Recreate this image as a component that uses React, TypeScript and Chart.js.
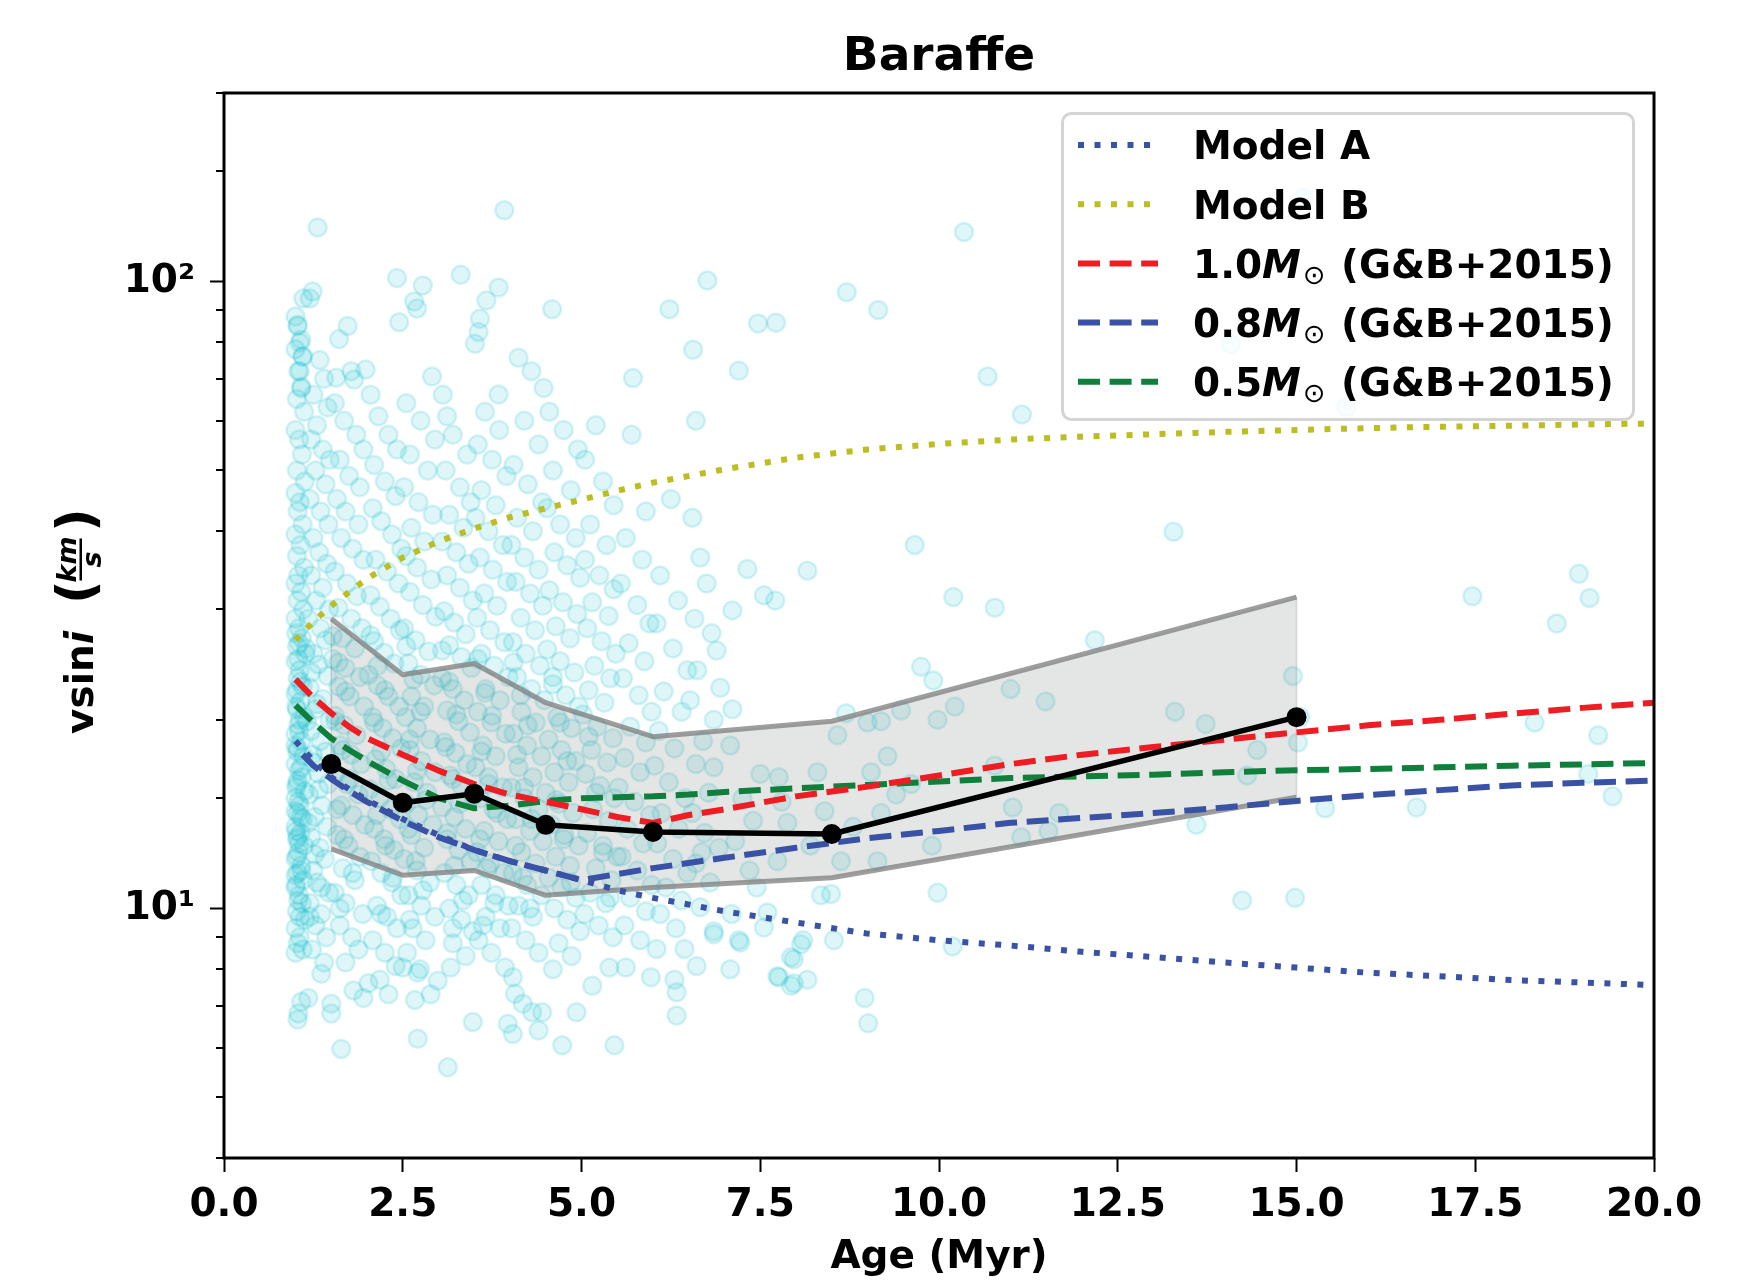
import React, { useEffect, useRef } from 'react';
import { Chart, registerables } from 'chart.js';

Chart.register(...registerables);

const FONT = '"DejaVu Sans", "Noto Sans", sans-serif';
const W = 1751;
const H = 1283;

// ---------- text ----------
const chartTitle = 'Baraffe';
const xAxisTitle = 'Age (Myr)';
const xMin = 0;
const xMax = 20;
const xStep = 2.5;
const yMin = 4;
const yMax = 200;
const superscripts = ['⁰', '¹', '²', '³'];

// ---------- observed stars (age [Myr], v sin i [km/s]) ----------
const starPoints: [number, number][] = [
  // x ~ 1.0 - 1.15 column
  [1.00, 88], [1.03, 85], [1.06, 80], [1.00, 78], [1.10, 76], [1.04, 72], [1.08, 68], [1.02, 65], [1.12, 62], [1.00, 58],
  [1.05, 56], [1.09, 53], [1.02, 50], [1.13, 48], [1.00, 46], [1.06, 44.5], [1.03, 43], [1.10, 41], [1.00, 39.5], [1.07, 38],
  [1.02, 36.5], [1.12, 35], [1.04, 34], [1.00, 33], [1.08, 32], [1.03, 31], [1.11, 30], [1.00, 29], [1.05, 28], [1.09, 27],
  [1.02, 26.2], [1.14, 25.5], [1.00, 24.8], [1.06, 24], [1.03, 23.3], [1.10, 22.6], [1.00, 22], [1.07, 21.4], [1.02, 20.8], [1.12, 20.2],
  [1.04, 19.6], [1.00, 19], [1.08, 18.5], [1.03, 18], [1.11, 17.5], [1.00, 17], [1.05, 16.6], [1.09, 16.2], [1.02, 15.8], [1.13, 15.4],
  [1.00, 15], [1.06, 14.6], [1.03, 14.2], [1.10, 13.9], [1.00, 13.5], [1.07, 13.2], [1.02, 12.9], [1.12, 12.6], [1.04, 12.3], [1.00, 12],
  [1.08, 11.7], [1.03, 11.4], [1.11, 11.1], [1.00, 10.8], [1.05, 10.5], [1.09, 10.2], [1.02, 9.9], [1.13, 9.6], [1.00, 9.3], [1.06, 9.0],
  [1.03, 8.8], [1.10, 8.6], [1.00, 8.5], [1.04, 6.8], [1.03, 6.65], [1.08, 7.1],
  [1.01, 27.5], [1.04, 25], [1.07, 23], [1.01, 21], [1.05, 19.2], [1.02, 17.8], [1.08, 16.8], [1.01, 15.6], [1.04, 14.8], [1.07, 14],
  [1.01, 13.3], [1.05, 12.7], [1.02, 12.1], [1.08, 11.5], [1.01, 10.9], [1.04, 10.3], [1.06, 9.7], [1.00, 11.3], [1.03, 13.0], [1.00, 14.3],
  [1.03, 16.0], [1.00, 18.2], [1.06, 20.0], [1.02, 22.3], [1.05, 26.5], [1.11, 94], [1.03, 85.3], [1.08, 80.8], [1.10, 76], [1.06, 72], [1.08, 67.6],
  // 1.15 - 1.5
  [1.31, 122], [1.24, 96.5], [1.20, 94], [1.34, 75], [1.40, 70], [1.25, 66], [1.45, 63], [1.30, 59], [1.22, 56], [1.38, 54],
  [1.48, 52], [1.28, 50], [1.42, 47.5], [1.20, 45], [1.35, 43], [1.46, 41], [1.25, 39], [1.33, 37], [1.44, 35.5], [1.22, 34],
  [1.38, 32.5], [1.29, 31], [1.47, 30], [1.18, 29], [1.35, 28], [1.42, 26.8], [1.25, 25.5], [1.32, 24.5], [1.45, 23.5], [1.20, 22.5],
  [1.38, 21.6], [1.28, 20.8], [1.48, 20], [1.22, 19.2], [1.35, 18.5], [1.42, 17.8], [1.26, 17.1], [1.32, 16.4], [1.46, 15.8], [1.19, 15.2],
  [1.37, 14.6], [1.27, 14], [1.44, 13.5], [1.22, 13], [1.34, 12.5], [1.41, 12], [1.25, 11.5], [1.30, 11], [1.47, 10.6], [1.20, 10.2],
  [1.36, 9.8], [1.28, 9.4], [1.43, 9.0], [1.23, 8.6], [1.36, 7.87], [1.18, 7.2], [1.50, 7.05], [1.50, 6.8], [1.40, 8.2],
  // 1.5 - 2.0
  [1.57, 70.3], [1.61, 81], [1.73, 85], [1.78, 72], [1.82, 69.8], [1.98, 72.4], [1.55, 64], [1.68, 60], [1.85, 57], [1.95, 54],
  [1.62, 52], [1.75, 49], [1.90, 47], [1.58, 45], [1.70, 43], [1.88, 41], [1.64, 39], [1.80, 37.5], [1.95, 36], [1.55, 34.5],
  [1.72, 33], [1.86, 31.5], [1.60, 30.2], [1.78, 29], [1.93, 28], [1.66, 27], [1.83, 26], [1.52, 25], [1.70, 24.2], [1.90, 23.4],
  [1.60, 22.6], [1.76, 21.8], [1.96, 21], [1.55, 20.3], [1.68, 19.6], [1.85, 18.9], [1.62, 18.2], [1.78, 17.6], [1.92, 17], [1.56, 16.4],
  [1.72, 15.8], [1.88, 15.2], [1.64, 14.6], [1.80, 14.1], [1.97, 13.6], [1.58, 13.1], [1.74, 12.6], [1.90, 12.1], [1.66, 11.6], [1.83, 11.1],
  [1.55, 10.6], [1.70, 10.2], [1.94, 9.8], [1.62, 9.4], [1.79, 9.0], [1.88, 8.6], [1.64, 5.97], [1.81, 7.4], [1.95, 7.2], [1.70, 8.2],
  // 2.0 - 2.5
  [2.02, 7.6], [2.30, 7.3], [2.05, 66], [2.16, 61], [2.30, 57], [2.42, 54], [2.10, 51], [2.25, 48], [2.40, 45.5], [2.08, 43.5],
  [2.20, 41.5], [2.35, 39.5], [2.48, 37.5], [2.12, 36], [2.28, 34.5], [2.44, 33], [2.05, 31.6], [2.18, 30.3], [2.33, 29], [2.46, 27.8],
  [2.10, 26.7], [2.24, 25.6], [2.38, 24.6], [2.02, 23.6], [2.15, 22.7], [2.30, 21.8], [2.45, 21], [2.08, 20.2], [2.22, 19.4], [2.36, 18.7],
  [2.48, 18], [2.12, 17.3], [2.27, 16.7], [2.40, 16.1], [2.04, 15.5], [2.18, 15], [2.33, 14.4], [2.46, 13.9], [2.10, 13.4], [2.24, 12.9],
  [2.38, 12.4], [2.06, 11.9], [2.20, 11.4], [2.35, 11], [2.48, 10.5], [2.14, 10.1], [2.28, 9.7], [2.42, 9.3], [2.08, 8.9], [2.25, 8.5],
  [2.40, 8.1], [2.18, 7.7],
  // 2.5 - 3.0
  [2.42, 101.4], [2.78, 98.6], [2.45, 86.2], [2.66, 93], [2.70, 90.6], [2.91, 70.6], [2.55, 64], [2.75, 60], [2.95, 56], [2.60, 53],
  [2.85, 50], [2.52, 47], [2.72, 44.5], [2.92, 42.5], [2.62, 40.5], [2.80, 38.5], [2.55, 36.5], [2.70, 35], [2.90, 33.5], [2.60, 32],
  [2.78, 30.5], [2.96, 29.2], [2.52, 28], [2.68, 26.8], [2.86, 25.7], [2.58, 24.6], [2.75, 23.6], [2.94, 22.7], [2.62, 21.8], [2.80, 21],
  [2.54, 20.2], [2.70, 19.4], [2.88, 18.6], [2.60, 17.9], [2.76, 17.2], [2.95, 16.5], [2.66, 15.9], [2.84, 15.3], [2.55, 14.7], [2.72, 14.1],
  [2.92, 13.6], [2.62, 13.1], [2.80, 12.5], [2.52, 12], [2.70, 11.5], [2.88, 11], [2.58, 10.5], [2.76, 10.1], [2.95, 9.7], [2.64, 9.3],
  [2.82, 8.9], [2.56, 8.5], [2.74, 8.0], [2.50, 8.05], [2.71, 7.9], [2.99, 7.67], [2.89, 7.3], [2.71, 6.2], [2.67, 7.15],
  // 3.0 - 3.5
  [3.31, 102.6], [3.12, 61], [3.06, 66], [3.20, 57], [3.40, 53], [3.10, 50], [3.30, 47], [3.45, 44.5], [3.15, 42.5], [3.35, 40.5],
  [3.05, 38.5], [3.25, 37], [3.42, 35.5], [3.12, 34], [3.30, 32.5], [3.48, 31], [3.08, 29.8], [3.22, 28.6], [3.38, 27.4], [3.15, 26.3],
  [3.32, 25.2], [3.46, 24.2], [3.05, 23.3], [3.20, 22.4], [3.36, 21.5], [3.12, 20.7], [3.28, 19.9], [3.44, 19.1], [3.08, 18.4], [3.24, 17.7],
  [3.40, 17], [3.16, 16.3], [3.32, 15.7], [3.48, 15.1], [3.05, 14.5], [3.22, 14], [3.38, 13.4], [3.12, 12.9], [3.28, 12.4], [3.45, 11.9],
  [3.08, 11.4], [3.25, 10.9], [3.42, 10.5], [3.15, 10], [3.32, 9.6], [3.48, 9.2], [3.20, 8.8], [3.38, 8.4], [3.17, 8.05], [3.13, 5.58], [3.48, 6.59],
  // 3.5 - 4.0
  [3.92, 130], [3.84, 97.9], [3.67, 93.3], [3.58, 87.3], [3.56, 83.1], [3.51, 79.6], [3.84, 66.1], [3.65, 62], [3.85, 58], [3.55, 55],
  [3.75, 52], [3.95, 49], [3.60, 46.5], [3.80, 44], [3.52, 42], [3.70, 40], [3.90, 38], [3.58, 36.3], [3.76, 34.7], [3.96, 33.2],
  [3.64, 31.8], [3.82, 30.4], [3.54, 29.1], [3.72, 27.8], [3.92, 26.6], [3.60, 25.5], [3.78, 24.4], [3.98, 23.4], [3.66, 22.4], [3.86, 21.5],
  [3.55, 20.6], [3.74, 19.8], [3.94, 19], [3.62, 18.2], [3.80, 17.5], [3.52, 16.8], [3.70, 16.2], [3.90, 15.6], [3.58, 15], [3.77, 14.4],
  [3.96, 13.9], [3.64, 13.3], [3.84, 12.8], [3.54, 12.3], [3.72, 11.8], [3.92, 11.4], [3.60, 10.9], [3.80, 10.5], [3.98, 10.1], [3.66, 9.7],
  [3.86, 9.3], [3.56, 8.9], [3.74, 8.5], [3.93, 8.05], [3.97, 6.55],
  // 4.0 - 4.5
  [4.12, 75.6], [4.47, 67.7], [4.30, 72], [4.20, 60], [4.40, 55], [4.05, 51], [4.25, 47.5], [4.45, 44.5], [4.10, 42], [4.32, 40],
  [4.02, 38], [4.20, 36.3], [4.40, 34.7], [4.08, 33.2], [4.28, 31.8], [4.46, 30.4], [4.15, 29.1], [4.35, 27.8], [4.04, 26.6], [4.22, 25.5],
  [4.42, 24.4], [4.10, 23.4], [4.30, 22.4], [4.48, 21.5], [4.16, 20.6], [4.36, 19.8], [4.05, 19], [4.24, 18.2], [4.44, 17.5], [4.12, 16.8],
  [4.32, 16.2], [4.02, 15.6], [4.20, 15], [4.40, 14.4], [4.08, 13.9], [4.28, 13.3], [4.46, 12.8], [4.16, 12.3], [4.36, 11.8], [4.04, 11.4],
  [4.24, 10.9], [4.44, 10.5], [4.12, 10.1], [4.32, 9.7], [4.02, 9.3], [4.22, 8.9], [4.40, 8.5], [4.04, 7.77], [4.07, 7.31], [4.18, 7.05],
  [4.31, 6.83], [4.45, 6.83], [4.40, 6.39], [4.04, 6.31],
  // 4.5 - 5.0
  [4.59, 90.4], [4.55, 62], [4.75, 58], [4.95, 54], [4.60, 50], [4.85, 46.5], [4.52, 43.5], [4.70, 41], [4.92, 39], [4.62, 37],
  [4.80, 35.3], [4.98, 33.7], [4.55, 32.2], [4.74, 30.8], [4.94, 29.5], [4.64, 28.2], [4.84, 27], [4.52, 25.9], [4.70, 24.8], [4.90, 23.8],
  [4.60, 22.8], [4.78, 21.9], [4.96, 21], [4.66, 20.2], [4.86, 19.4], [4.54, 18.6], [4.72, 17.9], [4.92, 17.2], [4.62, 16.5], [4.82, 15.9],
  [4.50, 15.3], [4.68, 14.7], [4.88, 14.2], [4.58, 13.6], [4.76, 13.1], [4.96, 12.6], [4.64, 12.1], [4.84, 11.7], [4.54, 11.2], [4.72, 10.8],
  [4.92, 10.4], [4.62, 10], [4.80, 9.6], [4.98, 9.2], [4.68, 8.8], [4.86, 8.4], [4.73, 6.05], [4.93, 6.83], [4.60, 8.0],
  // 5.0 - 5.5
  [5.20, 59], [5.05, 52], [5.30, 48], [5.45, 44], [5.12, 41], [5.35, 38], [5.05, 36], [5.25, 34], [5.45, 32.3], [5.15, 30.8],
  [5.38, 29.3], [5.08, 28], [5.28, 26.7], [5.48, 25.5], [5.18, 24.4], [5.40, 23.3], [5.10, 22.3], [5.32, 21.3], [5.02, 20.4], [5.22, 19.5],
  [5.44, 18.7], [5.14, 17.9], [5.36, 17.1], [5.06, 16.4], [5.26, 15.7], [5.46, 15], [5.16, 14.4], [5.38, 13.8], [5.08, 13.2], [5.30, 12.6],
  [5.50, 12.1], [5.20, 11.6], [5.42, 11.1], [5.12, 10.6], [5.34, 10.2], [5.04, 9.8], [5.24, 9.4], [5.44, 9], [5.15, 7.53], [5.39, 8.05], [5.46, 6.05],
  // 5.5 - 6.0
  [5.72, 70.2], [5.70, 57], [5.90, 43], [5.62, 39], [5.85, 36], [5.55, 33], [5.78, 30.5], [5.95, 28.5], [5.66, 26.5], [5.88, 24.8],
  [5.58, 23.3], [5.80, 21.9], [5.98, 20.6], [5.68, 19.5], [5.90, 18.4], [5.60, 17.4], [5.82, 16.5], [5.52, 15.6], [5.74, 14.8], [5.96, 14.1],
  [5.64, 13.4], [5.86, 12.7], [5.56, 12.1], [5.78, 11.5], [5.98, 10.9], [5.68, 10.4], [5.90, 9.9], [5.60, 9.4], [5.82, 8.9], [5.62, 8.05], [5.97, 7.77],
  // 6.0 - 6.5
  [6.23, 90.4], [6.25, 45], [6.10, 34], [6.35, 31], [6.05, 28.5], [6.28, 26], [6.48, 24], [6.15, 22.2], [6.40, 20.6], [6.08, 19.2],
  [6.30, 18], [6.02, 16.9], [6.22, 15.9], [6.45, 15], [6.12, 14.2], [6.36, 13.4], [6.06, 12.7], [6.28, 12], [6.48, 11.4], [6.18, 10.8],
  [6.40, 10.3], [6.10, 9.8], [6.32, 9.3], [6.05, 8.62], [6.30, 7.7], [6.33, 7.35], [6.33, 6.75], [6.44, 8.62],
  // 6.5 - 7.0
  [6.76, 100.4], [6.56, 77.9], [6.66, 36.3], [6.60, 60], [6.89, 25.8], [6.94, 22.5], [6.55, 42], [6.75, 33], [6.58, 29], [6.82, 27.5],
  [6.62, 24], [6.85, 20], [6.52, 21.5], [6.70, 18.5], [6.85, 16.8], [6.60, 17], [6.78, 15.3], [6.55, 14.2], [6.72, 13.2], [6.92, 12.5],
  [6.60, 11.8], [6.80, 11], [6.66, 10.05], [6.85, 9.1], [6.61, 8.1], [6.85, 9.2], [6.68, 12.3],
  // 7.0 - 8.0
  [7.20, 72.1], [7.47, 85.8], [7.32, 34.8], [7.11, 29.9], [7.11, 20.8], [7.08, 18.2], [7.50, 16.4], [7.25, 15], [7.40, 13.8], [7.15, 12.8],
  [7.35, 11.5], [7.10, 9.8], [7.22, 8.83], [7.08, 8.0], [7.20, 8.9], [7.45, 10.8],
  [7.72, 86], [7.55, 31.6], [7.71, 31.0], [7.76, 16.2], [7.88, 13.7], [7.74, 11.9], [7.60, 9.86], [7.97, 8.3], [7.74, 7.8], [7.97, 7.6],
  [7.76, 7.77], [7.93, 7.53], [7.93, 8.36], [7.55, 9.33], [7.80, 14.8],
  // 8.0 - 10.0
  [8.16, 34.6], [8.30, 16.5], [8.49, 10.55], [8.35, 10.5], [8.10, 8.9], [8.16, 7.7], [8.07, 8.77], [8.20, 12.6], [8.40, 14.3],
  [8.71, 96.2], [8.58, 18.9], [8.63, 11.9], [8.53, 8.9], [8.96, 7.2], [9.01, 6.56], [8.80, 13.5], [8.70, 20.5],
  [9.15, 90.1], [9.00, 19.8], [9.19, 19.9], [9.28, 17.5], [9.05, 16.5], [9.47, 20.7], [9.19, 14.2], [9.14, 11.9], [9.40, 15.2],
  [9.75, 24.3], [9.92, 23.1], [9.98, 20], [9.61, 15.8], [9.90, 12.6], [9.98, 10.6], [9.66, 38],
  // 10 - 20
  [10.35, 120], [10.20, 31.4], [10.22, 21], [10.19, 8.7], [10.68, 70.6], [10.78, 30.2], [10.78, 16.9], [11.00, 22.4], [11.03, 14.5],
  [11.16, 61.4], [11.49, 21.4], [11.15, 13.0], [11.53, 13.3], [11.68, 14.2], [12.18, 26.8],
  [13.28, 39.9], [13.30, 20.6], [13.73, 19.7], [13.60, 13.6], [14.31, 16.3], [14.45, 17.9], [14.24, 10.3], [14.95, 23.5], [15.02, 18.4],
  [15.05, 20.2], [14.98, 10.4], [15.40, 14.45], [16.68, 14.5], [17.46, 31.5], [18.33, 19.8], [18.64, 28.5], [18.95, 34.2], [19.10, 31.3],
  [19.22, 18.9], [19.08, 16.4], [19.42, 15.1], [14.08, 79.5], [15.10, 136], [15.70, 63],
  // extra density in the core
  [1.15, 26], [1.22, 23.8], [1.30, 21.2], [1.16, 19.9], [1.24, 17.6], [1.33, 15.5], [1.18, 13.7], [1.27, 12.2], [1.36, 10.8], [1.20, 9.7],
  [1.52, 27.2], [1.60, 24.7], [1.70, 22.2], [1.56, 19.9], [1.66, 17.9], [1.76, 16.1], [1.58, 14.4], [1.68, 12.9], [1.80, 11.4], [1.62, 10.0],
  [2.05, 27.3], [2.15, 24.4], [2.25, 22.3], [2.10, 19.8], [2.20, 17.8], [2.30, 16.0], [2.14, 14.1], [2.26, 12.6], [2.36, 11.2], [2.20, 9.8],
  [2.55, 26.2], [2.65, 23.2], [2.75, 20.6], [2.60, 18.6], [2.70, 16.6], [2.82, 14.9], [2.58, 13.4], [2.68, 11.9], [2.78, 10.7], [2.60, 9.6],
  [3.05, 25.8], [3.15, 23], [3.25, 20.4], [3.10, 18.1], [3.20, 16.1], [3.30, 14.7], [3.12, 13.2], [3.22, 11.7], [3.34, 10.3], [3.20, 9.3],
  [3.55, 25], [3.65, 22.1], [3.75, 20.3], [3.60, 17.8], [3.70, 15.8], [3.82, 14.2], [3.58, 12.9], [3.68, 11.6], [3.78, 10.2], [3.62, 9.4],
  [4.05, 24.7], [4.15, 21.9], [4.25, 19.6], [4.10, 17.6], [4.20, 15.6], [4.30, 13.9], [4.08, 12.6], [4.18, 11.2], [4.28, 10.0],
  [4.60, 23.4], [4.70, 19.8], [4.80, 17.2], [4.65, 14.9], [4.75, 12.9], [4.85, 11.0], [5.10, 18.8], [5.20, 15.3], [5.30, 12.3], [5.40, 10.4],
];

// ---------- models ----------
const modelAges = [1.0, 1.25, 1.5, 1.75, 2.0, 2.5, 3.0, 3.5, 4.0, 4.5, 5.0, 5.5, 6.0, 7.0, 8.0, 9.0, 10, 11, 12, 13, 14, 15, 16, 17, 18, 19, 20];
const modelA = [18.5, 17.2, 16.2, 15.5, 14.9, 13.9, 13.1, 12.4, 11.9, 11.5, 11.1, 10.7, 10.4, 9.9, 9.5, 9.12, 8.9, 8.73, 8.53, 8.37, 8.2, 8.05, 7.9, 7.8, 7.69, 7.62, 7.55];
const modelB = [26.8, 28.7, 30.4, 32.0, 33.6, 36.3, 38.5, 40.4, 42.1, 43.5, 44.9, 46.4, 47.8, 50.2, 52.4, 54.0, 55.1, 56.0, 56.6, 57.1, 57.6, 58.0, 58.4, 58.7, 58.9, 59.2, 59.4];

const gbAges = [1.0, 1.25, 1.5, 1.75, 2.0, 2.5, 3.0, 3.5, 4.0, 4.5, 5.0, 5.5, 6.0, 6.5, 7.0, 8.0, 9.0, 10, 11, 12, 13, 14, 15, 16, 17, 18, 19, 20];
const gb10 = [23.2, 21.7, 20.5, 19.5, 18.7, 17.6, 16.6, 15.8, 15.2, 14.8, 14.4, 14.0, 13.7, 14.1, 14.4, 15.1, 15.65, 16.3, 17.0, 17.6, 18.1, 18.6, 19.1, 19.6, 20.0, 20.45, 20.9, 21.3];
const gb05 = [21.1, 19.8, 18.7, 17.9, 17.2, 16.0, 15.0, 14.45, 14.6, 14.85, 15.0, 15.05, 15.1, 15.2, 15.35, 15.55, 15.75, 15.95, 16.15, 16.25, 16.35, 16.5, 16.62, 16.7, 16.8, 16.9, 16.98, 17.07];
const gb08Ages = [1.1, 1.25, 1.5, 1.75, 2.0, 2.5, 3.0, 3.5, 4.0, 4.5, 5.0, 5.5, 6.0, 7.0, 8.0, 9.0, 10, 11, 12, 13, 14, 15, 16, 17, 18, 19, 20];
const gb08 = [17.6, 16.9, 16.1, 15.4, 14.8, 13.8, 13.0, 12.4, 11.9, 11.5, 11.1, 11.35, 11.6, 12.05, 12.5, 12.95, 13.3, 13.7, 13.95, 14.2, 14.5, 14.85, 15.17, 15.45, 15.72, 15.87, 16.0];

// ---------- binned medians and spread ----------
const binAges = [1.5, 2.5, 3.5, 4.5, 6.0, 8.5, 15.0];
const binMedian = [17.0, 14.75, 15.25, 13.6, 13.25, 13.15, 20.2];
const bandHigh = [29.0, 23.6, 24.6, 21.3, 18.8, 19.9, 31.4];
const bandLow = [12.45, 11.3, 11.5, 10.5, 10.8, 11.2, 15.05];

// ---------- styles ----------
const BLUE = '#3a52a6';
const OLIVE = '#bcbd22';
const RED = '#ee1d24';
const GREEN = '#0f7f3b';
const LW = 6;
const DOT = [6, 10.5];
const DASH = [22, 9.6];

type Part = { t: string; italic?: boolean; sub?: boolean };
const legendItems: { parts: Part[]; color: string; dash: number[] }[] = [
  { parts: [{ t: 'Model A' }], color: BLUE, dash: DOT },
  { parts: [{ t: 'Model B' }], color: OLIVE, dash: DOT },
  { parts: [{ t: '1.0' }, { t: 'M', italic: true }, { t: '⊙', sub: true }, { t: ' (G&B+2015)' }], color: RED, dash: DASH },
  { parts: [{ t: '0.8' }, { t: 'M', italic: true }, { t: '⊙', sub: true }, { t: ' (G&B+2015)' }], color: BLUE, dash: DASH },
  { parts: [{ t: '0.5' }, { t: 'M', italic: true }, { t: '⊙', sub: true }, { t: ' (G&B+2015)' }], color: GREEN, dash: DASH },
];

const toXY = (xs: number[], ys: number[]) => xs.map((x, i) => ({ x, y: ys[i] }));
const isDecade = (v: number) => {
  const l = Math.log10(v);
  return Math.abs(l - Math.round(l)) < 1e-9;
};

const overlayPlugin = {
  id: 'overlay',
  afterDraw(chart: any) {
    const ctx: CanvasRenderingContext2D = chart.ctx;
    const area = chart.chartArea;
    const ys = chart.scales.y;
    ctx.save();

    // minor y ticks
    ctx.strokeStyle = '#000';
    ctx.lineWidth = 2;
    ctx.setLineDash([]);
    for (const t of ys.ticks) {
      if (isDecade(t.value)) continue;
      const py = Math.round(ys.getPixelForValue(t.value));
      ctx.beginPath();
      ctx.moveTo(area.left - 8, py);
      ctx.lineTo(area.left, py);
      ctx.stroke();
    }

    // frame
    ctx.lineWidth = 3;
    ctx.strokeRect(area.left, area.top, area.right - area.left, area.bottom - area.top);

    // title
    ctx.fillStyle = '#000';
    ctx.textAlign = 'center';
    ctx.textBaseline = 'alphabetic';
    const cx = (area.left + area.right) / 2;
    ctx.font = `bold 47px ${FONT}`;
    ctx.fillText(chartTitle, cx, area.top - 23);

    // x title
    ctx.font = `bold 39px ${FONT}`;
    ctx.fillText(xAxisTitle, cx, area.bottom + 110);

    // y title (rotated)
    const cy = (area.top + area.bottom) / 2;
    ctx.save();
    ctx.translate(area.left - 131, cy);
    ctx.rotate(-Math.PI / 2);
    ctx.textAlign = 'left';
    let u = -108.5;
    ctx.font = `bold 39px ${FONT}`;
    ctx.fillText('vsin', u, 0);
    u += ctx.measureText('vsin').width;
    ctx.font = `italic bold 39px ${FONT}`;
    ctx.fillText('i', u, 0);
    ctx.font = `bold 52px ${FONT}`;
    ctx.fillText('(', 21.5, 0);
    ctx.fillText(')', 93.5, 0);
    ctx.font = `italic bold 27px ${FONT}`;
    ctx.textAlign = 'center';
    ctx.fillText('km', 66, -17);
    ctx.fillText('s', 66, 8);
    ctx.fillRect(45, -13.5, 42, 2.5);
    ctx.restore();

    // legend
    const lx = 1062.5, ly = 113.5, lw = 571, lh = 306;
    ctx.beginPath();
    (ctx as any).roundRect(lx, ly, lw, lh, 9);
    ctx.fillStyle = 'rgba(255,255,255,0.8)';
    ctx.fill();
    ctx.lineWidth = 3;
    ctx.strokeStyle = 'rgba(204,204,204,0.85)';
    ctx.stroke();

    legendItems.forEach((item, i) => {
      const ry = 145 + i * 59.2;
      ctx.save();
      ctx.strokeStyle = item.color;
      ctx.lineWidth = LW;
      ctx.lineCap = 'butt';
      ctx.setLineDash(item.dash);
      ctx.beginPath();
      ctx.moveTo(1078, ry);
      ctx.lineTo(1158, ry);
      ctx.stroke();
      ctx.restore();

      ctx.fillStyle = '#000';
      ctx.textAlign = 'left';
      ctx.textBaseline = 'alphabetic';
      let tx = 1193;
      const base = ry + 14.3;
      for (const p of item.parts) {
        if (p.sub) {
          ctx.font = `27px ${FONT}`;
          ctx.fillText(p.t, tx + 2, base + 6);
          tx += ctx.measureText(p.t).width + 4;
        } else {
          ctx.font = `${p.italic ? 'italic ' : ''}bold 39px ${FONT}`;
          ctx.fillText(p.t, tx, base);
          tx += ctx.measureText(p.t).width;
        }
      }
    });

    ctx.restore();
  },
};

export default function App() {
  const canvasRef = useRef<HTMLCanvasElement | null>(null);

  useEffect(() => {
    const canvas = canvasRef.current;
    if (!canvas) return;
    const bandLine = 'rgba(125,125,125,0.75)';
    const chart = new Chart(canvas, {
      type: 'line',
      data: {
        datasets: [
          {
            label: 'stars',
            data: starPoints.map(([x, y]) => ({ x, y })),
            showLine: false,
            pointRadius: 9,
            pointBorderWidth: 2.5,
            pointBackgroundColor: 'rgba(23,190,207,0.14)',
            pointBorderColor: 'rgba(23,190,207,0.18)',
            order: 10,
          } as any,
          {
            label: 'spread low',
            data: toXY(binAges, bandLow),
            borderColor: bandLine,
            borderWidth: 5,
            pointRadius: 0,
            fill: false,
            order: 8,
          },
          {
            label: 'spread high',
            data: toXY(binAges, bandHigh),
            borderColor: bandLine,
            borderWidth: 5,
            pointRadius: 0,
            fill: '-1',
            backgroundColor: 'rgba(120,128,125,0.2)',
            order: 8,
          },
          {
            label: 'spread start',
            data: [
              { x: binAges[0], y: bandLow[0] },
              { x: binAges[0], y: bandHigh[0] },
            ],
            borderColor: 'rgba(128,128,128,0.3)',
            borderWidth: 1.5,
            pointRadius: 0,
            order: 8,
          },
          {
            label: 'spread end',
            data: [
              { x: binAges[binAges.length - 1], y: bandLow[bandLow.length - 1] },
              { x: binAges[binAges.length - 1], y: bandHigh[bandHigh.length - 1] },
            ],
            borderColor: 'rgba(128,128,128,0.3)',
            borderWidth: 1.5,
            pointRadius: 0,
            order: 8,
          },
          { label: 'Model A', data: toXY(modelAges, modelA), borderColor: BLUE, borderWidth: LW, borderDash: DOT, pointRadius: 0, order: 4 },
          { label: 'Model B', data: toXY(modelAges, modelB), borderColor: OLIVE, borderWidth: LW, borderDash: DOT, pointRadius: 0, order: 4 },
          { label: '1.0', data: toXY(gbAges, gb10), borderColor: RED, borderWidth: LW, borderDash: DASH, pointRadius: 0, order: 3 },
          { label: '0.8', data: toXY(gb08Ages, gb08), borderColor: BLUE, borderWidth: LW, borderDash: DASH, pointRadius: 0, order: 3 },
          { label: '0.5', data: toXY(gbAges, gb05), borderColor: GREEN, borderWidth: LW, borderDash: DASH, pointRadius: 0, order: 3 },
          {
            label: 'median',
            data: toXY(binAges, binMedian),
            borderColor: '#000',
            borderWidth: 5.5,
            pointRadius: 10,
            pointBackgroundColor: '#000',
            pointBorderWidth: 0,
            order: 0,
          },
        ],
      },
      options: {
        animation: false,
        responsive: false,
        devicePixelRatio: 1,
        events: [],
        layout: { padding: { top: 93, right: 97, left: 0, bottom: 0 } },
        plugins: {
          legend: { display: false },
          title: { display: false },
          tooltip: { enabled: false },
        },
        elements: { line: { tension: 0, borderJoinStyle: 'round' } },
        scales: {
          x: {
            type: 'linear',
            min: xMin,
            max: xMax,
            offset: false,
            border: { display: false },
            grid: { display: true, drawOnChartArea: false, drawTicks: true, tickLength: 14, tickWidth: 2, tickColor: '#000' },
            ticks: {
              stepSize: xStep,
              autoSkip: false,
              maxRotation: 0,
              padding: 10,
              color: '#000',
              font: { family: FONT, size: 39, weight: 'bold' },
              callback: (v: any) => Number(v).toFixed(1),
            },
            afterFit: (s: any) => {
              s.height = 125;
              s.paddingLeft = 0;
              s.paddingRight = 0;
            },
          },
          y: {
            type: 'logarithmic',
            min: yMin,
            max: yMax,
            border: { display: false },
            grid: {
              display: true,
              drawOnChartArea: false,
              drawTicks: true,
              tickLength: 14,
              tickWidth: 2,
              tickColor: (c: any) => (c.tick && isDecade(c.tick.value) ? '#000' : 'rgba(0,0,0,0)'),
            },
            ticks: {
              autoSkip: false,
              padding: 15,
              color: '#000',
              font: { family: FONT, size: 39, weight: 'bold' },
              callback: (v: any) => {
                const n = Number(v);
                if (!isDecade(n)) return '';
                return '10' + superscripts[Math.round(Math.log10(n))];
              },
            },
            afterFit: (s: any) => {
              s.width = 224;
              s.paddingTop = 0;
              s.paddingBottom = 0;
            },
          },
        },
      } as any,
      plugins: [overlayPlugin],
    });
    return () => chart.destroy();
  }, []);

  return (
    <div style={{ position: 'absolute', left: 0, top: 0, width: W, height: H, background: '#fff' }}>
      <canvas ref={canvasRef} width={W} height={H} style={{ display: 'block', width: W, height: H }} />
    </div>
  );
}
